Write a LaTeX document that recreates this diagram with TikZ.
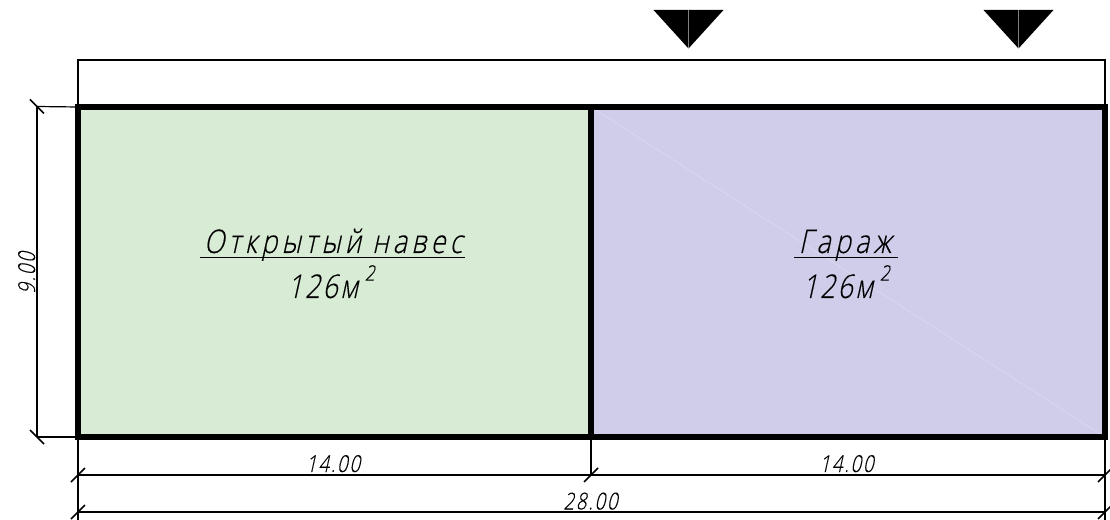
\documentclass[tikz,border=0pt]{standalone}
\usepackage{fontspec}
\setmainfont{Open Sans Light}[FakeSlant=0.22,FakeStretch=0.82,FakeBold=0.25,LetterSpace=7]
\newfontfamily\wordfont{Open Sans Light}[FakeSlant=0.22,FakeStretch=0.82,FakeBold=0.25,LetterSpace=13]
\newfontfamily\dimfont{Open Sans Light}[FakeSlant=0.22,FakeStretch=0.8,FakeBold=0.25,LetterSpace=7.5]
\definecolor{zonegreen}{HTML}{D8EBD4}
\definecolor{zonepurple}{HTML}{CFCDE9}
\tikzset{
  wall/.style={line width=4.5pt,line cap=rect,line join=miter},
  thinline/.style={line width=0.9pt,black},
  tick/.style={line width=1.3pt,black},
  flag/.style={fill=black,draw=none},
  flagaxis/.style={line width=0.5pt,gray},
  diag/.style={line width=0.4pt,white},
  roomlabel/.style={inner sep=0pt,font=\fontsize{24.5}{24.5}\selectfont,text=black,anchor=base},
  dimlabel/.style={inner sep=0pt,font=\dimfont\fontsize{17.5}{17.5}\selectfont,text=black,anchor=base},
}
\newcommand{\sqm}{126м\hspace{5pt}\raisebox{13pt}{\fontsize{16}{16}\selectfont 2}}
\begin{document}
\begin{tikzpicture}[x=0.75pt,y=-0.75pt]
\useasboundingbox (0,0) rectangle (1110,520);
% corners
\coordinate (tl) at (78,107);
\coordinate (tm) at (591,107);
\coordinate (tr) at (1105,107);
\coordinate (bl) at (78,437);
\coordinate (bm) at (591,437);
\coordinate (br) at (1105,437);
\coordinate (stl) at (78,60);
\coordinate (str) at (1105,60);
\coordinate (dlt) at (37,106.5);
\coordinate (dlb) at (37,437);
\coordinate (d1l) at (78,475);
\coordinate (d1m) at (591,475);
\coordinate (d1r) at (1105,475);
\coordinate (d2l) at (78,512);
\coordinate (d2r) at (1105,512);
\coordinate (e2l) at (78,520);
\coordinate (e2r) at (1105,520);
\coordinate (u1l) at (200,257.5);
\coordinate (u1r) at (465,257.5);
\coordinate (u2l) at (794,257.5);
\coordinate (u2r) at (898,257.5);
% fills
\fill[zonegreen] (tl) rectangle (bm);
\fill[zonepurple] (tm) rectangle (br);
\draw[diag,opacity=0.2] (tl) -- (bm);
\draw[diag,opacity=0.3] (tm) -- (br);
% top strip
\draw[thinline] (tl) -- (stl) -- (str) -- (tr);
% left dimension
\draw[thinline] (dlt) -- (tl);
\draw[thinline] (dlb) -- (bl);
\draw[thinline] (dlt) -- (dlb);
% bottom dimensions
\draw[thinline] (bl) -- (e2l);
\draw[thinline] (bm) -- (d1m);
\draw[thinline] (br) -- (e2r);
\draw[thinline] (d1l) -- (d1r);
\draw[thinline] (d2l) -- (d2r);
% ticks
\foreach \c in {dlt,dlb}
  \draw[tick] ([shift={(-7,-7)}]\c) -- ([shift={(7,7)}]\c);
\foreach \c in {d1l,d1m,d1r,d2l,d2r}
  \draw[tick] ([shift={(-7,7)}]\c) -- ([shift={(7,-7)}]\c);
% walls
\draw[wall] (tl) rectangle (br);
\draw[wall] (tm) -- (bm);
% level marks
\foreach \x in {688.5,1018.5}{
  \fill[flag] (\x-35,10) -- (\x+35,10) -- (\x,48.5) -- cycle;
  \draw[flagaxis] (\x,10) -- (\x,48);
}
% room labels
\node[roomlabel] (r1) at (333,253) {\wordfont Открытый навес};
\draw[thinline] (u1l) -- (u1r);
\node[roomlabel] (r1a) at (331,298) {\sqm};
\node[roomlabel] (r2) at (845,253) {\wordfont Гараж};
\draw[thinline] (u2l) -- (u2r);
\node[roomlabel] (r2a) at (846,298) {\sqm};
% dimension labels
\node[dimlabel] (d14a) at (333,472) {14.00};
\node[dimlabel] (d14b) at (846.5,472) {14.00};
\node[dimlabel] (d28) at (590.5,509.5) {28.00};
\node[dimlabel,rotate=90] (d9) at (35,273) {9.00};
\end{tikzpicture}
\end{document}
